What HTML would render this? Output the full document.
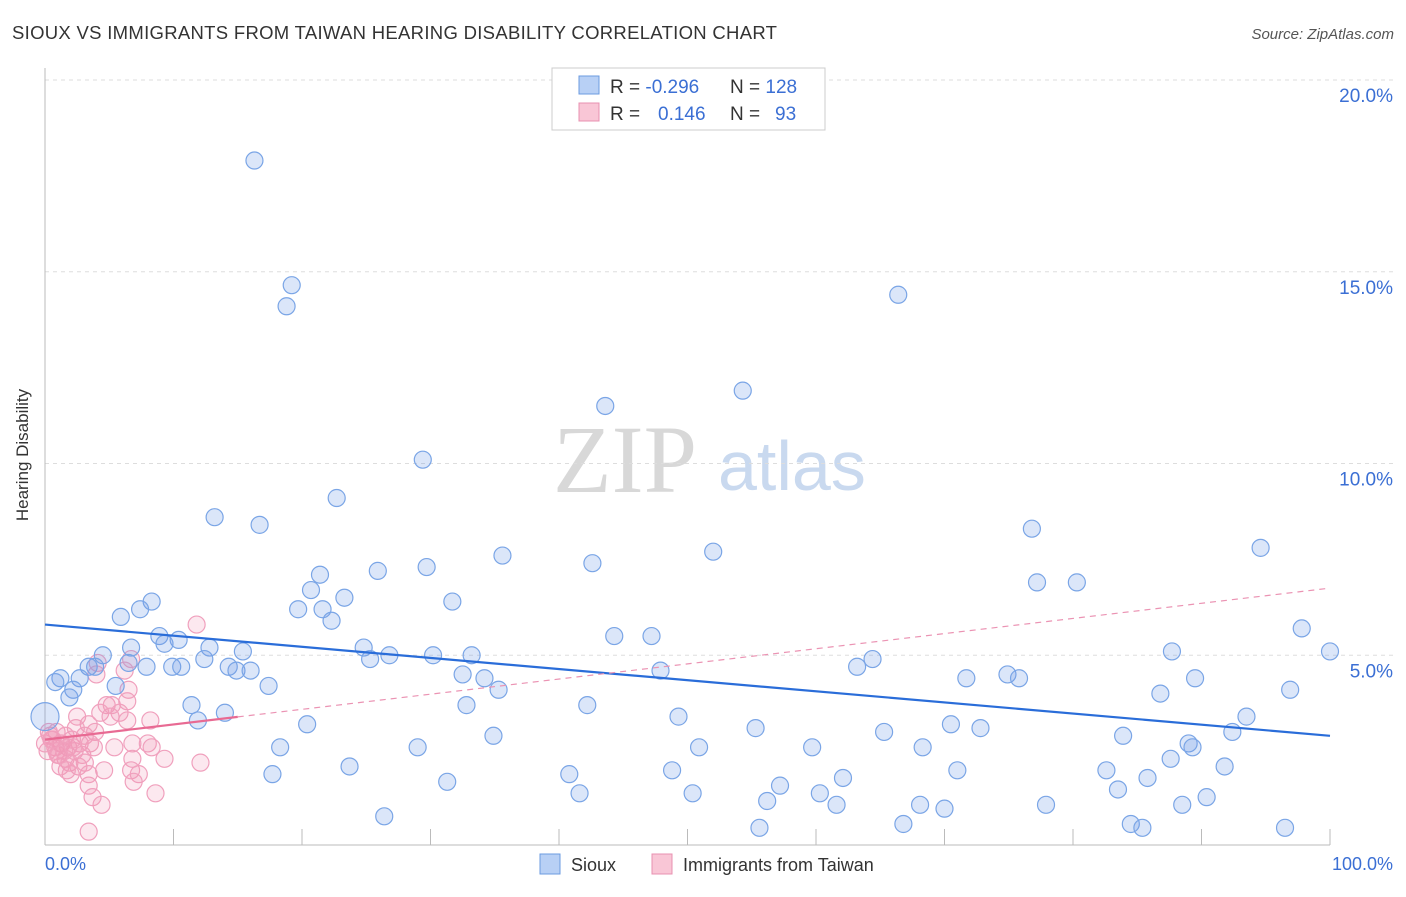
<!DOCTYPE html>
<html><head><meta charset="utf-8">
<style>
body{margin:0;background:#fff;font-family:"Liberation Sans",sans-serif;}
svg text{font-family:"Liberation Sans",sans-serif;}
</style></head>
<body>
<svg width="1406" height="892" viewBox="0 0 1406 892">
<text x="12" y="39" font-size="18.5" fill="#333" letter-spacing="0.3">SIOUX VS IMMIGRANTS FROM TAIWAN HEARING DISABILITY CORRELATION CHART</text>
<text x="1394" y="39" font-size="15" fill="#555" text-anchor="end" font-style="italic">Source: ZipAtlas.com</text>
<g>
<text x="553" y="492" font-size="96" fill="#d8d8d8" style="font-family:'Liberation Serif',serif">ZIP</text>
<text x="718" y="490" font-size="70" fill="#c9d9ef">atlas</text>
</g>
<g id="grid"></g>
<g id="axes"></g>
<g id="pts"></g>
<g id="trends"></g>
<text x="28" y="455" font-size="17" fill="#333" transform="rotate(-90 28 455)" text-anchor="middle">Hearing Disability</text>
<text x="45" y="870" font-size="18" fill="#3b6fd4">0.0%</text>
<text x="1393" y="870" font-size="18" fill="#3b6fd4" text-anchor="end">100.0%</text>
<g>
<rect x="552" y="68" width="273" height="62" fill="#fff" stroke="#ccc"/>
<rect x="579" y="76" width="20" height="18" fill="#b8d0f5" stroke="#6b9be0"/>
<rect x="579" y="103" width="20" height="18" fill="#f9c6d6" stroke="#e890b0"/>
<text x="610" y="93" font-size="19" fill="#333">R = <tspan fill="#3b6fd4">-0.296</tspan></text>
<text x="730" y="93" font-size="19" fill="#333">N = <tspan fill="#3b6fd4">128</tspan></text>
<text x="610" y="120" font-size="19" fill="#333">R = </text><text x="658" y="120" font-size="19" fill="#3b6fd4">0.146</text>
<text x="730" y="120" font-size="19" fill="#333">N = </text><text x="775" y="120" font-size="19" fill="#3b6fd4">93</text>
</g>
<g>
<rect x="540" y="854" width="20" height="20" fill="#b8d0f5" stroke="#6b9be0"/>
<text x="571" y="871" font-size="18" fill="#333">Sioux</text>
<rect x="652" y="854" width="20" height="20" fill="#f9c6d6" stroke="#e890b0"/>
<text x="683" y="871" font-size="18" fill="#333">Immigrants from Taiwan</text>
</g>
</svg>
<script>
const yTicks=[5,10,15,20];
const yTickLabels=["5.0%","10.0%","15.0%","20.0%"];
const xTicks=[0,10,20,30,40,50,60,70,80,90,100];
const siouxX=[16.3,19.2,18.8,66.4,54.3,43.6,29.4,22.7,13.2,16.7,76.8,94.6,52.0,35.6,42.6,25.9,29.7,21.4,77.2,80.3,20.7,23.3,31.7,8.3,7.4,19.7,21.6,5.9,22.3,97.8,44.3,47.2,8.9,10.4,6.7,9.3,12.8,24.8,15.4,87.7,100,26.8,30.2,33.2,25.3,4.5,6.5,12.4,64.4,3.4,3.9,7.9,9.9,10.6,14.3,14.9,16.0,47.9,63.2,32.5,1.2,0.8,2.7,34.2,71.7,74.9,75.8,89.5,2.2,5.5,17.4,35.3,86.8,96.9,1.9,11.4,32.8,42.2,14.0,49.3,93.5,11.9,20.4,55.3,70.5,72.8,92.4,65.3,83.9,34.9,89.0,89.3,68.3,18.3,29.0,50.9,59.7,87.6,23.7,91.8,71.0,48.8,82.6,17.7,40.8,85.8,62.1,31.3,57.2,83.5,41.6,50.4,60.3,56.2,90.4,61.6,77.9,68.1,70.0,88.5,26.4,55.6,66.8,84.5,85.4,96.5,0];
const siouxY=[17.9,14.65,14.1,14.4,11.9,11.5,10.1,9.1,8.6,8.4,8.3,7.8,7.7,7.6,7.4,7.2,7.3,7.1,6.9,6.9,6.7,6.5,6.4,6.4,6.2,6.2,6.2,6.0,5.9,5.7,5.5,5.5,5.5,5.4,5.2,5.3,5.2,5.2,5.1,5.1,5.1,5.0,5.0,5.0,4.9,5.0,4.8,4.9,4.9,4.7,4.7,4.7,4.7,4.7,4.7,4.6,4.6,4.6,4.7,4.5,4.4,4.3,4.4,4.4,4.4,4.5,4.4,4.4,4.1,4.2,4.2,4.1,4.0,4.1,3.9,3.7,3.7,3.7,3.5,3.4,3.4,3.3,3.2,3.1,3.2,3.1,3.0,3.0,2.9,2.9,2.7,2.6,2.6,2.6,2.6,2.6,2.6,2.3,2.1,2.1,2.0,2.0,2.0,1.9,1.9,1.8,1.8,1.7,1.6,1.5,1.4,1.4,1.4,1.2,1.3,1.1,1.1,1.1,1.0,1.1,0.8,0.5,0.6,0.6,0.5,0.5,3.4];
const taiwanX=[11.8,6.7,4.1,6.2,4.0,6.5,4.8,5.2,6.4,4.3,5.8,2.5,5.1,8.2,6.4,3.4,2.4,3.9,0.9,1.6,3.1,0.4,6.8,8.0,1.3,2.7,0.8,3.5,1.8,5.4,8.3,0.2,2.3,1.0,2.9,1.6,6.8,9.3,1.9,3.1,12.1,1.2,2.6,4.6,6.7,3.4,2.0,7.3,1.7,3.4,6.9,3.7,8.6,4.4,3.4,0,0.5,1.2,2.1,0.9,1.5,3.8,0.3,1.1,2.2,0.6];
const taiwanY=[5.8,4.9,4.8,4.6,4.5,4.1,3.7,3.7,3.8,3.5,3.5,3.4,3.4,3.3,3.3,3.2,3.1,3.0,3.0,2.9,2.9,2.9,2.7,2.7,2.7,2.7,2.6,2.7,2.6,2.6,2.6,2.5,2.5,2.4,2.4,2.3,2.3,2.3,2.2,2.2,2.2,2.1,2.1,2.0,2.0,1.9,1.9,1.9,2.0,1.6,1.7,1.3,1.4,1.1,0.4,2.7,2.8,2.7,2.8,2.5,2.5,2.6,3.0,2.4,2.6,2.8];
const siouxTrend=[5.8,2.9];
const taiwanTrend=[2.8,6.75];
const NS="http://www.w3.org/2000/svg";
const sx=v=>45+v*12.85, sy=v=>847-v*38.35;
function mk(t,a,p){const e=document.createElementNS(NS,t);for(const k in a)e.setAttribute(k,a[k]);p.appendChild(e);return e;}
const grid=document.getElementById('grid'),axes=document.getElementById('axes');
yTicks.forEach((v,i)=>{
 const l=mk('line',{x1:45,x2:1393,y1:sy(v),y2:sy(v),stroke:'#ddd','stroke-dasharray':'4,4'},grid);
 
 
 const t=mk('text',{x:1393,y:sy(v)+22,'font-size':19,fill:'#3b6fd4','text-anchor':'end'},grid);
 t.textContent=yTickLabels[i];
 
 
});
mk('line',{x1:45,x2:45,y1:68,y2:845,stroke:'#bbb'},axes);
mk('line',{x1:45,x2:1330,y1:845,y2:845,stroke:'#bbb'},axes);
xTicks.forEach(v=>{const l=mk('line',{x1:sx(v),x2:sx(v),y1:829,y2:845,stroke:'#bbb'},axes);
 
 });
const pts=document.getElementById('pts');
taiwanX.forEach((x,i)=>{const c=mk('circle',{cx:sx(x),cy:sy(taiwanY[i]),r:8.5,fill:'rgba(242,150,182,0.22)',stroke:'#f0a0bd','stroke-width':1.2},pts);
 
 });
siouxX.forEach((x,i)=>{const c=mk('circle',{cx:sx(x),cy:sy(siouxY[i]),r:i==siouxX.length-1?14:8.5,fill:'rgba(110,155,230,0.25)',stroke:'#7aa5e6','stroke-width':1.2},pts);
 
 });
const tr=document.getElementById('trends');
const b=mk('line',{x1:sx(0),y1:sy(siouxTrend[0]),x2:sx(100),y2:sy(siouxTrend[1]),stroke:'#2a6dd9','stroke-width':2.2},tr);


const pAt=v=>taiwanTrend[0]+(taiwanTrend[1]-taiwanTrend[0])*v/100;
const p1=mk('line',{x1:sx(0),y1:sy(pAt(0)),x2:sx(15),y2:sy(pAt(15)),stroke:'#e86a93','stroke-width':2.2},tr);


const p2=mk('line',{x1:sx(15),y1:sy(pAt(15)),x2:sx(100),y2:sy(pAt(100)),stroke:'#eb93b3','stroke-width':1.2,'stroke-dasharray':'6,5'},tr);


</script>
</body></html>
